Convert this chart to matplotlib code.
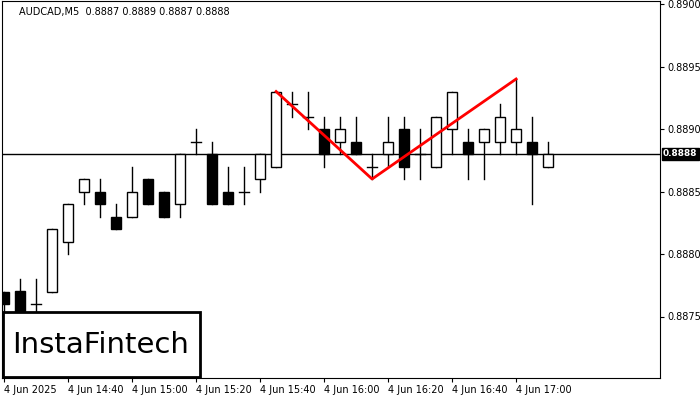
import matplotlib
matplotlib.use("Agg")
import matplotlib.pyplot as plt
from matplotlib.patches import Rectangle

opens  = [.8877,.8877,.8876,.8877,.8881,.8885,.8885,.8883,.8883,.8886,.8885,.8884,.8889,.8888,.8885,.8885,.8886,.8887,
          .8892,.8891,.8890,.8889,.8889,.8887,.8888,.8890,.8888,.8887,.8890,.8889,.8889,.8889,.8889,.8889,.8887]
highs  = [.8877,.8878,.8878,.8882,.8884,.8886,.8886,.8884,.8887,.8886,.8885,.8888,.8890,.8889,.8887,.8887,.8888,.8893,
          .8893,.8893,.8891,.8891,.8891,.8888,.8891,.8891,.8890,.8891,.8893,.8890,.8890,.8892,.8894,.8891,.8889]
lows   = [.8875,.8875,.8875,.8877,.8880,.8884,.8883,.8882,.8883,.8884,.8883,.8883,.8888,.8884,.8884,.8884,.8885,.8887,
          .8891,.8890,.8887,.8888,.8888,.8886,.8887,.8886,.8886,.8887,.8888,.8886,.8886,.8888,.8888,.8884,.8887]
closes = [.8876,.8875,.8876,.8882,.8884,.8886,.8884,.8882,.8885,.8884,.8883,.8888,.8889,.8884,.8884,.8885,.8888,.8893,
          .8892,.8891,.8888,.8890,.8888,.8887,.8889,.8887,.8888,.8891,.8893,.8888,.8890,.8891,.8890,.8888,.8888]
pattern_idx = [17, 23, 32]
pattern_px = [.8893, .8886, .8894]
current = .8888
xtick_pos = [0, 4, 8, 12, 16, 20, 24, 28, 32]
xtick_labels = ["4 Jun 2025", "4 Jun 14:40", "4 Jun 15:00", "4 Jun 15:20", "4 Jun 15:40",
                "4 Jun 16:00", "4 Jun 16:20", "4 Jun 16:40", "4 Jun 17:00"]
yticks = [.8875, .8880, .8885, .8890, .8895, .8900]

fig = plt.figure(figsize=(7, 4), dpi=100)
ax = fig.add_axes([0.003, 0.055, 0.940, 0.9425])
w = 0.6
for i, (o, h, l, c) in enumerate(zip(opens, highs, lows, closes)):
    ax.plot([i, i], [l, h], color="black", lw=1, zorder=2)
    if abs(c - o) < 1e-9:
        ax.plot([i - w/2, i + w/2], [o, o], color="black", lw=1, zorder=3)
    else:
        fc = "white" if c > o else "black"
        ax.add_patch(Rectangle((i - w/2, min(o, c)), w, abs(c - o), facecolor=fc,
                               edgecolor="black", lw=1, zorder=3))
ax.axhline(current, color="black", lw=1, zorder=1)
ax.plot(pattern_idx, pattern_px, color="red", lw=2, zorder=4)

ax.set_xlim(-0.125, 41)
ax.set_ylim(0.887008, 0.890024)
ax.yaxis.tick_right()
ax.set_yticks(yticks)
ax.set_yticklabels([f"{v:.4f}" for v in yticks], fontsize=7)
ax.set_xticks(xtick_pos)
ax.set_xticklabels(xtick_labels, fontsize=7, ha="left")
ax.tick_params(length=3, pad=2)
ax.annotate(f"{current:.4f}", xy=(1.0, current), xycoords=("axes fraction", "data"),
            xytext=(2, 0), textcoords="offset points", va="center", ha="left",
            fontsize=6.5, color="white", fontweight="bold",
            bbox=dict(boxstyle="square,pad=0.15", fc="black", ec="black"))
ax.text(0.026, 0.985, "AUDCAD,M5  0.8887 0.8889 0.8887 0.8888", transform=ax.transAxes,
        fontsize=7, va="top", ha="left")
fig.patches.append(Rectangle((3/700, 1 - 377/400), 197/700, 65/400, transform=fig.transFigure,
                             facecolor="white", edgecolor="black", lw=2, zorder=5))
fig.text(101/700, 1 - 345/400, "InstaFintech", fontsize=21, va="center", ha="center", zorder=6)
fig.savefig("out.png", dpi=100)
